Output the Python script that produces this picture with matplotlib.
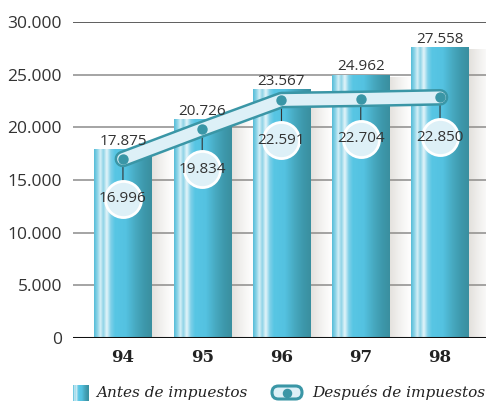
import numpy as np
import matplotlib.pyplot as plt
from matplotlib.colors import LinearSegmentedColormap, to_rgb
from matplotlib.transforms import offset_copy
import matplotlib.patches as mpatches

years = ['94', '95', '96', '97', '98']
antes = [17875, 20726, 23567, 24962, 27558]
despues = [16996, 19834, 22591, 22704, 22850]
yticks = [0, 5000, 10000, 15000, 20000, 25000, 30000]
ytick_labels = ['0', '5.000', '10.000', '15.000', '20.000', '25.000', '30.000']
legend_labels = ['Antes de impuestos', 'Después de impuestos']


def fmt(v):
    return f"{v:,}".replace(',', '.')


bar_cmap = LinearSegmentedColormap.from_list('bar', [
    (0.00, '#55bcd8'), (0.06, '#8fd5e8'), (0.11, '#d6f0f7'), (0.16, '#8ed3e6'),
    (0.22, '#e4f5fa'), (0.29, '#7fd0e8'), (0.36, '#58c6e4'), (0.55, '#54c2e1'),
    (0.72, '#47a9c0'), (0.88, '#3d97aa'), (1.00, '#3a8f9f')])

TEAL = '#3a96a6'
LIGHT = '#ddf0f7'
TXT = '#333333'

fig = plt.figure(figsize=(4.86, 4.03), dpi=100)
fig.patch.set_facecolor('white')
ax = fig.add_axes([73 / 486, 65 / 403, 413 / 486, 316 / 403])
ax.set_facecolor('none')

x = np.arange(len(years))
w = 0.72
grad = np.linspace(0, 1, 256).reshape(1, -1)

# shadows
shadow = np.zeros((1, 64, 4))
shadow[..., :3] = to_rgb('#9a9284')
shadow[..., 3] = np.linspace(0.38, 0.0, 64) ** 1.3
for xi, v in zip(x, antes):
    ax.imshow(shadow, extent=[xi + w / 2, xi + w / 2 + 0.3, 0, v - 200],
              aspect='auto', interpolation='bilinear', zorder=1.5)
    ax.imshow(grad, extent=[xi - w / 2, xi + w / 2, 0, v], cmap=bar_cmap,
              aspect='auto', interpolation='bilinear', zorder=2)

# gridlines
for t in yticks[1:]:
    ax.axhline(t, color='#333333' if t == 30000 else '#8c8c8c', lw=1.1, zorder=1)
ax.axhline(0, color='#111111', lw=2.2, zorder=3)

# top labels
tr_up = offset_copy(ax.transData, fig=fig, x=0, y=0.5, units='points')
for xi, v in zip(x, antes):
    ax.text(xi, v, fmt(v), ha='center', va='bottom', fontsize=11,
            family='Open Sans', color=TXT, transform=tr_up, zorder=8)

# connectors and circles
dy = -28.8
tr_c = offset_copy(ax.transData, fig=fig, x=0, y=dy, units='points')
for xi, v in zip(x, despues):
    ax.annotate('', xy=(xi, v), xytext=(0, dy + 12), textcoords='offset points',
                arrowprops=dict(arrowstyle='-', color='#333333', lw=0.8,
                                shrinkA=0, shrinkB=0), zorder=4)
ax.scatter(x, despues, s=26 ** 2, facecolor=LIGHT, edgecolor='white',
           linewidths=2, transform=tr_c, zorder=4.5)
for xi, v in zip(x, despues):
    ax.text(xi, v, fmt(v), ha='center', va='center', fontsize=11,
            family='Open Sans', color=TXT, transform=tr_c, zorder=9)

# tube line
ax.plot(x, despues, color=TEAL, lw=12, solid_capstyle='round',
        solid_joinstyle='round', zorder=5)
ax.plot(x, despues, color=LIGHT, lw=8.4, solid_capstyle='round',
        solid_joinstyle='round', zorder=6)
ax.scatter(x, despues, s=42, color=TEAL, zorder=7)

ax.set_xlim(-0.63, 4.58)
ax.set_ylim(0, 30000)
ax.set_yticks(yticks)
ax.set_yticklabels(ytick_labels, family='Open Sans', fontsize=12.5, color=TXT)
ax.set_xticks(x)
ax.set_xticklabels(years, family='DejaVu Serif', fontweight='bold', fontsize=12,
                   color='#222222')
ax.tick_params(axis='both', length=0)
ax.tick_params(axis='y', pad=8)
ax.tick_params(axis='x', pad=8)
for s in ax.spines.values():
    s.set_visible(False)

# legend
lax = fig.add_axes([0, 0, 1, 1])
lax.set_facecolor('none')
lax.axis('off')
lax.imshow(grad, extent=[73, 89, 401, 385], cmap=bar_cmap, aspect='auto',
           interpolation='bilinear')
lax.text(96, 393, legend_labels[0], family='DejaVu Serif', style='italic',
         fontsize=11, color='#222222', va='center', ha='left')
pill = mpatches.FancyBboxPatch((272, 386), 30, 13,
                               boxstyle='round,pad=0,rounding_size=6.5',
                               facecolor=LIGHT, edgecolor=TEAL, lw=2.2)
lax.add_patch(pill)
lax.scatter([287], [392.5], s=34, color=TEAL, zorder=3)
lax.text(312, 393, legend_labels[1], family='DejaVu Serif', style='italic',
         fontsize=11, color='#222222', va='center', ha='left')
lax.set_xlim(0, 486)
lax.set_ylim(403, 0)

fig.savefig('out.png', dpi=100)
